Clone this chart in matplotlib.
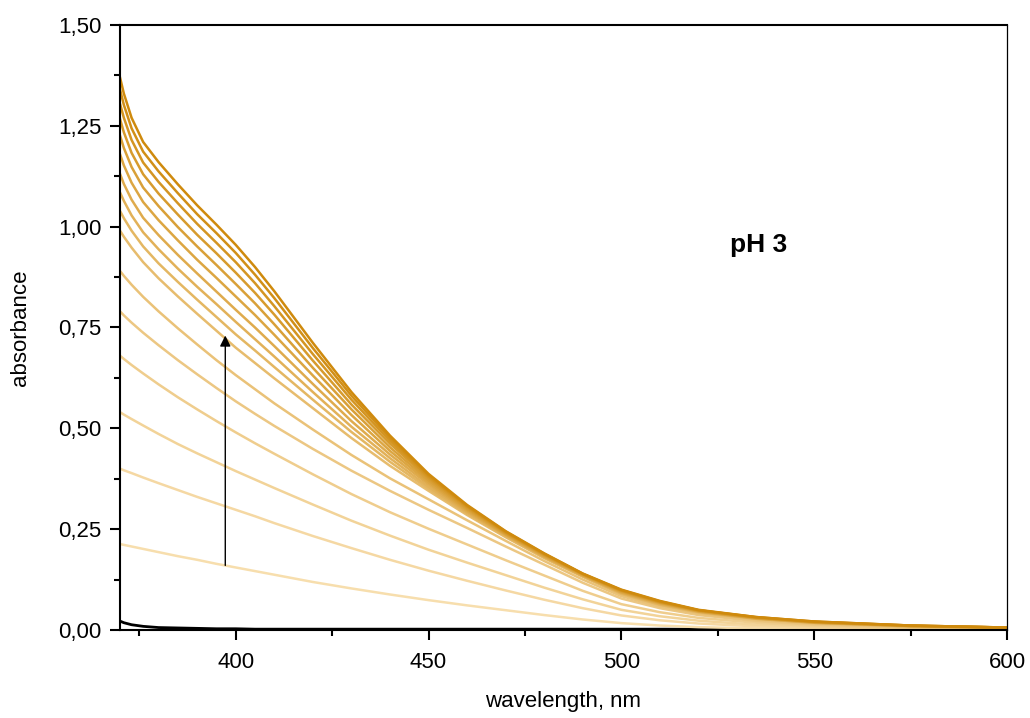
import numpy as np
import matplotlib.pyplot as plt
from matplotlib.ticker import MultipleLocator, FixedLocator, FixedFormatter

plt.rcParams['font.family'] = ['Liberation Sans', 'DejaVu Sans']

# wavelength grid (nm) shared by all spectra
wavelength = [370, 371, 373, 376, 380, 385, 390, 395, 400, 405, 410, 420, 430,
              440, 450, 460, 470, 480, 490, 500, 510, 520, 535, 550, 575, 600]

# spectra, from the lowest (s16) to the highest (s01)
s16 = [0.213, 0.211, 0.207, 0.201, 0.193, 0.183, 0.174, 0.164, 0.155, 0.146, 0.137, 0.119, 0.103,
       0.088, 0.074, 0.061, 0.049, 0.037, 0.026, 0.017, 0.011, 0.007, 0.004, 0.002, 0.001, 0.000]
s15 = [0.40, 0.396, 0.389, 0.378, 0.364, 0.347, 0.33, 0.314, 0.298, 0.282, 0.265, 0.233, 0.203,
       0.174, 0.147, 0.122, 0.098, 0.075, 0.054, 0.036, 0.024, 0.016, 0.009, 0.005, 0.003, 0.001]
s14 = [0.54, 0.534, 0.523, 0.507, 0.486, 0.461, 0.438, 0.416, 0.394, 0.373, 0.352, 0.311, 0.271,
       0.234, 0.199, 0.167, 0.136, 0.105, 0.076, 0.050, 0.034, 0.023, 0.013, 0.008, 0.004, 0.002]
s13 = [0.68, 0.672, 0.657, 0.636, 0.609, 0.577, 0.547, 0.518, 0.49, 0.463, 0.437, 0.386, 0.337,
       0.292, 0.251, 0.212, 0.173, 0.135, 0.097, 0.064, 0.044, 0.030, 0.018, 0.010, 0.005, 0.002]
s12 = [0.79, 0.78, 0.762, 0.737, 0.706, 0.669, 0.634, 0.60, 0.567, 0.536, 0.506, 0.449, 0.395,
       0.345, 0.298, 0.253, 0.207, 0.162, 0.117, 0.078, 0.054, 0.037, 0.022, 0.013, 0.006, 0.003]
s11 = [0.89, 0.878, 0.856, 0.826, 0.79, 0.748, 0.708, 0.669, 0.632, 0.597, 0.562, 0.497, 0.434,
       0.376, 0.324, 0.272, 0.221, 0.171, 0.125, 0.084, 0.058, 0.040, 0.024, 0.015, 0.007, 0.004]
s10 = [0.99, 0.975, 0.948, 0.912, 0.872, 0.827, 0.784, 0.742, 0.70, 0.662, 0.624, 0.55, 0.476,
       0.407, 0.345, 0.285, 0.23, 0.178, 0.132, 0.089, 0.062, 0.043, 0.027, 0.017, 0.009, 0.005]
s09 = [1.039, 1.021, 0.99, 0.951, 0.909, 0.863, 0.819, 0.776, 0.733, 0.693, 0.652, 0.571, 0.491,
       0.417, 0.35, 0.288, 0.232, 0.18, 0.133, 0.09, 0.063, 0.044, 0.028, 0.018, 0.009, 0.005]
s08 = [1.085, 1.064, 1.028, 0.986, 0.944, 0.896, 0.851, 0.808, 0.764, 0.721, 0.678, 0.59, 0.504,
       0.426, 0.355, 0.291, 0.234, 0.181, 0.134, 0.092, 0.064, 0.045, 0.028, 0.018, 0.009, 0.005]
s07 = [1.131, 1.106, 1.067, 1.022, 0.979, 0.93, 0.884, 0.839, 0.794, 0.75, 0.704, 0.61, 0.518,
       0.435, 0.361, 0.294, 0.236, 0.182, 0.135, 0.093, 0.066, 0.046, 0.029, 0.018, 0.010, 0.005]
s06 = [1.18, 1.152, 1.109, 1.061, 1.016, 0.966, 0.918, 0.873, 0.827, 0.781, 0.732, 0.631, 0.533,
       0.444, 0.366, 0.297, 0.237, 0.184, 0.136, 0.094, 0.067, 0.046, 0.029, 0.019, 0.010, 0.005]
s05 = [1.226, 1.195, 1.148, 1.097, 1.051, 0.999, 0.951, 0.905, 0.858, 0.81, 0.758, 0.65, 0.547,
       0.453, 0.371, 0.30, 0.239, 0.185, 0.137, 0.096, 0.068, 0.047, 0.030, 0.019, 0.010, 0.006]
s04 = [1.267, 1.234, 1.183, 1.13, 1.082, 1.03, 0.98, 0.934, 0.886, 0.836, 0.782, 0.668, 0.559,
       0.462, 0.376, 0.303, 0.241, 0.187, 0.138, 0.097, 0.069, 0.048, 0.031, 0.020, 0.010, 0.006]
s03 = [1.305, 1.27, 1.215, 1.159, 1.111, 1.058, 1.007, 0.96, 0.912, 0.86, 0.803, 0.684, 0.571,
       0.469, 0.38, 0.306, 0.242, 0.188, 0.139, 0.098, 0.070, 0.049, 0.031, 0.020, 0.011, 0.006]
s02 = [1.34, 1.302, 1.244, 1.186, 1.137, 1.083, 1.031, 0.984, 0.935, 0.881, 0.823, 0.699, 0.581,
       0.476, 0.384, 0.308, 0.244, 0.189, 0.139, 0.099, 0.071, 0.049, 0.032, 0.021, 0.011, 0.006]
s01 = [1.37, 1.33, 1.27, 1.21, 1.16, 1.105, 1.053, 1.005, 0.955, 0.90, 0.84, 0.712, 0.59,
       0.482, 0.387, 0.31, 0.245, 0.19, 0.14, 0.10, 0.072, 0.05, 0.032, 0.021, 0.011, 0.006]

# black baseline spectrum
blank = [0.022, 0.018, 0.013, 0.009, 0.006, 0.005, 0.004, 0.003, 0.003, 0.002, 0.002, 0.002, 0.002,
         0.002, 0.002, 0.002, 0.002, 0.002, 0.002, 0.002, 0.002, 0.002, 0.001, 0.001, 0.001, 0.001]

spectra = [s16, s15, s14, s13, s12, s11, s10, s09, s08, s07, s06, s05, s04, s03, s02, s01]

x_ticks = [400, 450, 500, 550, 600]
y_ticks = [0.0, 0.25, 0.5, 0.75, 1.0, 1.25, 1.5]
y_labels = ['0,00', '0,25', '0,50', '0,75', '1,00', '1,25', '1,50']

fig = plt.figure(figsize=(10.3, 7.18), dpi=100)
ax = fig.add_axes([0.1165, 0.1226, 0.8612, 0.8426])

light = np.array([0.97, 0.87, 0.68])
dark = np.array([0.81, 0.54, 0.05])

ax.plot(wavelength, blank, color='black', lw=2.0)
n = len(spectra)
for i, s in enumerate(spectra):
    t = i / (n - 1)
    col = light + (dark - light) * t
    ax.plot(wavelength, s, color=col, lw=1.8, solid_joinstyle='round')

# arrow showing the increase
ax.annotate('', xy=(397.3, 0.73), xytext=(397.3, 0.16),
            arrowprops=dict(arrowstyle='-|>', color='black', lw=1.0,
                            mutation_scale=16, shrinkA=0, shrinkB=0))

ax.text(535.5, 0.955, 'pH 3', fontsize=19, fontweight='bold',
        ha='center', va='center')

ax.set_xlim(370, 600)
ax.set_ylim(0, 1.5)
ax.xaxis.set_major_locator(FixedLocator(x_ticks))
ax.xaxis.set_minor_locator(MultipleLocator(25))
ax.yaxis.set_major_locator(FixedLocator(y_ticks))
ax.yaxis.set_major_formatter(FixedFormatter(y_labels))
ax.yaxis.set_minor_locator(MultipleLocator(0.125))

ax.tick_params(which='major', direction='out', length=7.5, width=1.5,
               labelsize=16, top=False, right=False)
ax.tick_params(which='minor', direction='out', length=4, width=1.5,
               top=False, right=False)
ax.tick_params(axis='x', which='major', pad=8)
ax.tick_params(axis='y', which='major', pad=6)

for side in ['left', 'bottom', 'top']:
    ax.spines[side].set_linewidth(1.5)
ax.spines['right'].set_linewidth(0.9)

ax.set_xlabel('wavelength, nm', fontsize=16, labelpad=13)
ax.set_ylabel('absorbance', fontsize=16, labelpad=19)

fig.savefig('out.png', dpi=100)
